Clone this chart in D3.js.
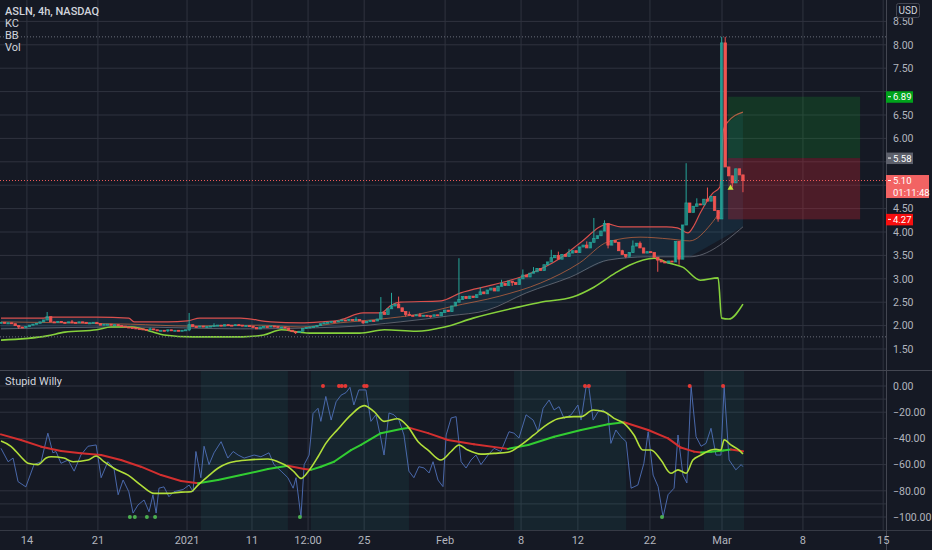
<!DOCTYPE html>
<html>
<head>
<meta charset="utf-8">
<script src="https://cdn.jsdelivr.net/npm/d3@7"></script>
<style>
html,body{margin:0;padding:0;background:#151924;overflow:hidden}
svg{display:block;font-family:Roboto,"Noto Sans",sans-serif}
</style>
</head>
<body>
<div id="chart"></div>
<script>
//###########################################################################
//#                              Data                                       #
//###########################################################################

var firstOpen = 2.06;
//4h closes, one per bar (open = previous close)
var closes = [
	2.07,2.05,2.06,2.04,2.00,1.97,1.96,1.98,2.01,2.03,
	2.05,2.08,2.12,2.19,2.08,2.07,2.09,2.07,2.06,2.08,
	2.07,2.06,2.08,2.07,2.05,2.06,2.07,2.04,2.01,2.03,
	2.03,2.01,2.02,2.00,1.99,1.97,1.96,1.95,1.94,1.93,
	1.92,1.91,1.93,1.91,1.90,1.90,1.89,1.91,1.90,1.90,
	1.89,1.90,1.91,2.02,1.98,1.97,1.99,1.97,1.98,1.99,
	2.00,2.01,1.99,2.02,2.01,2.00,2.02,2.01,1.99,2.00,
	1.99,1.96,1.93,1.97,1.98,1.97,1.99,1.98,1.96,1.97,
	1.95,1.90,1.87,1.85,1.88,1.94,1.96,1.97,1.98,2.00,
	2.04,2.06,2.07,2.09,2.08,2.10,2.12,2.11,2.13,2.12,
	2.13,2.10,2.06,2.09,2.11,2.10,2.14,2.28,2.24,2.36,
	2.42,2.46,2.38,2.30,2.24,2.22,2.21,2.23,2.20,2.22,
	2.21,2.20,2.23,2.21,2.28,2.33,2.30,2.42,2.50,2.56,
	2.62,2.58,2.63,2.60,2.66,2.72,2.68,2.76,2.80,2.74,
	2.84,2.90,2.86,2.95,2.92,2.88,3.00,3.08,3.04,3.12,
	3.15,3.22,3.18,3.30,3.36,3.45,3.50,3.42,3.52,3.48,
	3.55,3.60,3.56,3.68,3.72,3.66,3.78,3.86,3.92,4.02,
	4.18,3.72,3.82,3.78,3.60,3.52,3.48,3.56,3.70,3.76,
	3.66,3.55,3.58,3.56,3.46,3.40,3.36,3.34,3.38,3.36,
	3.80,3.42,4.15,4.62,4.42,4.55,4.60,4.58,4.70,4.66,
	4.76,4.46,4.28,8.04,5.39,5.20,5.05,5.35,5.22,5.10
];
//[bar, price] of the wicks that stick out of the bodies
var wickHigh = [[13,2.29],[20,2.12],[42,1.96],[53,2.27],[60,2.05],[100,2.18],[107,2.61],[110,2.70],[112,2.62],
	[115,2.30],[118,2.27],[129,3.44],[135,2.82],[141,2.98],[147,3.20],[150,3.25],[155,3.62],[157,3.58],
	[160,3.64],[165,3.80],[167,4.30],[170,4.25],[175,3.62],[178,3.82],[180,3.80],[193,5.47],[196,4.72],
	[199,4.95],[203,8.17],[204,8.17]];
var wickLow = [[5,1.93],[47,1.86],[53,1.88],[83,1.82],[102,2.03],[114,2.19],[121,2.17],[144,2.85],
	[171,3.65],[176,3.44],[185,3.15],[191,3.30],[202,4.22],[206,4.95],[209,4.85]];

//Channel lines [bar, price]
var upperBand = [[0,2.16],[12,2.16],[14,2.18],[27,2.18],[36,2.16],[37.5,2.08],[47,2.08],[52.5,2.10],[56,2.16],
	[67.5,2.16],[76,2.08],[84.5,2.06],[90,2.08],[95.5,2.12],[102,2.27],[107,2.27],[110,2.44],[112.5,2.50],
	[124,2.53],[129.5,2.70],[138.5,2.87],[148,3.08],[157.5,3.44],[163,3.76],[171,4.17],[174.5,4.11],
	[187.5,4.11],[190.5,4.09],[193.5,3.98],[195,4.11],[197,4.41],[200.5,4.83],[202.5,4.96],[203.5,6.18],
	[204.5,6.33],[209,6.56]];
var middleBand = [[0,2.08],[36.5,2.03],[53.5,1.99],[73,2.01],[84.5,1.97],[95.5,2.06],[107,2.14],[118,2.25],
	[126.5,2.40],[140.5,2.63],[152,2.91],[163,3.34],[171,3.79],[180,3.89],[188.5,3.85],[194,3.81],
	[200,4.17],[202.5,4.43]];
var basisBand = [[0,1.93],[36.5,1.97],[67.5,1.93],[95.5,1.97],[112.5,2.08],[126.5,2.21],[137,2.33],[148,2.70],
	[160.5,3.04],[171,3.40],[182,3.47],[194,3.47],[209,4.11]];
var lowerBand = [[0,1.69],[13,1.78],[18,1.86],[27,1.91],[31,1.97],[37,1.97],[42,1.88],[46,1.80],[54,1.76],
	[68,1.76],[74,1.80],[79,1.91],[84,1.86],[87,1.84],[101,1.84],[108,1.91],[117,1.88],[125,1.97],
	[133,2.16],[146,2.40],[152,2.50],[161,2.61],[167,2.82],[173,3.12],[177,3.29],[184,3.44],[188,3.34],
	[192,3.25],[197,2.97],[202,3.02],[203,2.16],[205,2.14],[209,2.46]];

//Stupid Willy pane [bar, value]
var willR = [[0,-47.6],[2,-57.8],[3.4,-55],[4.8,-73],[7,-77],[9.3,-60],[11.3,-57.8],[13.2,-36],[14.6,-51],
	[15.5,-50],[16.9,-59],[18.9,-56.5],[20.6,-65],[22.5,-52.7],[24.5,-46],[26.8,-45],[28.2,-70],[30.1,-57.8],
	[31.8,-62.6],[33,-83],[34.4,-71.8],[36,-80.7],[37.2,-97],[38.6,-90.8],[40.3,-87],[41.7,-96],[42.8,-83],
	[43.7,-97],[44.5,-78],[45.9,-77],[47.3,-84.5],[48.7,-80.7],[51.3,-79],[53,-75.6],[54.1,-80.7],[54.9,-50],
	[56.3,-70],[57.2,-46],[58.6,-60],[60,-51],[62,-42.5],[63.9,-55],[65.4,-50],[66.8,-52.7],[68.5,-55],
	[71.3,-52.7],[73.2,-54],[75.5,-51],[76.9,-60],[78.9,-65],[80.8,-70],[82.3,-78],[83.1,-70],[84.5,-100],
	[85.4,-60],[86.8,-52.7],[87.9,-21],[89.3,-17],[90.1,-27],[91.5,-8],[93,-26],[94.4,-12],[95.8,-7],
	[97.2,-5],[98.3,-1],[99.4,-14.5],[100.8,-3],[102.8,-3],[104.2,-27],[105.6,-22],[107,-40],[107.9,-52.7],
	[109.3,-20.6],[110.7,-22],[112.1,-26],[113.5,-37.4],[114.9,-65],[116.3,-70],[117.7,-61.6],[119.2,-62.6],
	[120.6,-66.4],[121.7,-57.8],[123.1,-71.8],[124.5,-76.8],[125.4,-37.4],[126.8,-24.4],[128.2,-23.4],
	[129.6,-57.8],[131,-62.6],[132.4,-56.5],[133.8,-52.7],[135.2,-60],[137.2,-52.7],[138.9,-47.6],[140.8,-50],
	[143.1,-34.9],[144.5,-36],[145.9,-39.7],[147.9,-22],[149.9,-26],[151.3,-34.9],[152.7,-17],[154.4,-10.7],
	[155.8,-18.3],[157.2,-15.8],[158.6,-24.7],[160.6,-22],[162.5,-14.5],[163.4,-26],[164.8,-1],[165.6,-1],
	[166.8,-26],[168.2,-19.6],[169.6,-18.3],[171,-22],[171.8,-43.8],[173.2,-33.6],[174.6,-38.7],[176.1,-42.5],
	[177.5,-78],[179.4,-75.6],[181.1,-59],[182.3,-34.9],[183.7,-68],[185.1,-76.8],[186.5,-100],[187.9,-83],
	[189.6,-78],[190.7,-37.4],[192.1,-68],[193.2,-74],[194.4,-0.5],[195.8,-38.7],[197.2,-46],[198.6,-43.8],
	[200,-32.3],[201.4,-52.7],[202.8,-52.7],[203.7,-0.5],[205.1,-56.5],[207,-64],[208.5,-60],[209,-61.6]];
var fastLine = [[0,-42],[2.8,-46],[5.6,-54],[7.6,-59],[10.4,-60],[12.7,-55],[14.1,-54],[17.7,-55],[20.3,-57.8],
	[24.5,-56.5],[26.8,-53.4],[29,-57.8],[31.8,-62.8],[35.8,-68],[39.4,-75.6],[43.1,-82],[47,-82],[50.7,-81],
	[53.5,-80.7],[55.5,-75.6],[58.3,-69],[61.1,-62.8],[63.9,-59],[65.6,-57.8],[69.6,-56.5],[75.2,-55.7],
	[78,-57.8],[80.8,-61.6],[82.5,-65.4],[84.5,-70.5],[86.5,-65.4],[89.3,-54],[91.5,-43.8],[94.9,-33],
	[98.6,-22],[102.3,-15],[105.1,-19.6],[107.9,-27],[111.8,-25],[114.6,-31],[117.5,-42.5],[120.3,-48.9],
	[123.9,-56.5],[126.8,-50],[129,-45],[131.5,-48.9],[135.2,-52],[138.9,-51.4],[142.8,-50.6],[146.5,-45],
	[150.1,-37.4],[153,-31],[156.9,-25],[161.4,-23.4],[163.4,-23.4],[166.8,-18.3],[169.9,-19.6],[172.7,-24.7],
	[175.5,-28.5],[178.3,-37.4],[180.8,-48.9],[183.1,-48.9],[185.9,-56.5],[188.7,-66.6],[190.7,-64],
	[193,-66.6],[194.9,-56.5],[197.2,-52.7],[200,-48.9],[201.4,-48.3],[202.8,-48.9],[203.7,-41],[205.6,-45],
	[207.9,-48.9],[209,-51.9]];
var slowLine = [[0,-36.9],[5.6,-41.2],[11.3,-46.3],[16.9,-49.6],[22.5,-51.4],[28.2,-52.7],[33.8,-56.5],
	[39.4,-61.6],[45.1,-68],[50.7,-72.5],[55.5,-74.3],[61.1,-71.8],[67.6,-68],[75.2,-63.4],[80.8,-60.8],
	[85.4,-63.4],[87.3,-64],[90.1,-61.6],[93.8,-57.8],[98.6,-48.9],[101.4,-45],[107,-36],[112.7,-32.8],
	[114.9,-31.8],[120.3,-36],[125.9,-41.2],[133.2,-44.5],[142.8,-48],[148.5,-45],[155.8,-38.7],[163.4,-33.6],
	[171,-29.2],[175.5,-27.7],[182.3,-33.6],[187.9,-40],[191.5,-47],[195.2,-50.1],[197.2,-50.8],[200,-50.2],
	[203.4,-49.3],[205.6,-48.5],[209,-49.8]];
var shadeRanges = [[56.3,80.8],[87.3,114.9],[144.5,176.1],[198,209.3]];
var overboughtDots = [90.7,95.2,96,97,102.3,103,164.5,165.6,194,203.4];
var oversoldDots = [36.3,37.7,41.1,43.4,84.2,186.2];

//Axes
var priceTicks = [1.5,2,2.5,3,3.5,4,4.5,5,5.5,6,6.5,7,7.5,8,8.5];
var indTicks = [0,-20,-40,-60,-80,-100];
var indBands = [-10,-90];
var timeTicks = [[7.3,"14"],[27.3,"21"],[52.4,"2021"],[70.7,"11"],[86.5,"12:00"],[102.3,"25"],[125.1,"Feb"],
	[146.5,"8"],[162.5,"12"],[182.8,"22"],[203.1,"Mar"],[225.9,"8"],[248.5,"15"]];
var legendLines = ["ASLN, 4h, NASDAQ","KC","BB","Vol"];

//Levels and long position tool
var dottedLevels = [8.17,1.76];
var lastPrice = 5.10;
var countdown = "01:11:48";
var targetPrice = 6.89, entryPrice = 5.58, stopPrice = 4.27;
var positionBars = [204.8,242];
var signalMarks = [[205.5,4.94]];

//###########################################################################
//#                              Chart                                      #
//###########################################################################

var width = 932, height = 550;
var axisX = 886;
var priceBottom = 369, sepY = 370, indBottom = 530;
var upColor = "#26a69a", downColor = "#ef5350", gridColor = "#2f333f", textColor = "#b2b5be";

var svg = d3.select("#chart").append("svg").attr("width",width).attr("height",height);
svg.append("rect").attr("width",width).attr("height",height).attr("fill","#151924");

var xscale = d3.scaleLinear().domain([0,1]).range([1,4.55]);
var yPrice = d3.scaleLinear().domain([1.5,8.5]).range([349,21.4]);
var yInd = d3.scaleLinear().domain([-100,0]).range([517,386]);

var defs = svg.append("defs");
defs.append("clipPath").attr("id","clipPrice").append("rect").attr("x",0).attr("y",0).attr("width",axisX).attr("height",priceBottom);
defs.append("clipPath").attr("id","clipInd").append("rect").attr("x",0).attr("y",sepY+1).attr("width",axisX).attr("height",indBottom-sepY-1);

//Grid
var grid = svg.append("g");
grid.selectAll("line.hp").data(priceTicks).enter().append("line")
	.attr("x1",0).attr("x2",axisX).attr("y1",function(d){ return yPrice(d); }).attr("y2",function(d){ return yPrice(d); })
	.attr("stroke",gridColor);
grid.selectAll("line.hi").data(indTicks.concat(indBands)).enter().append("line")
	.attr("x1",0).attr("x2",axisX).attr("y1",function(d){ return yInd(d); }).attr("y2",function(d){ return yInd(d); })
	.attr("stroke",gridColor);
grid.selectAll("line.v").data(timeTicks).enter().append("line")
	.attr("x1",function(d){ return xscale(d[0]); }).attr("x2",function(d){ return xscale(d[0]); })
	.attr("y1",0).attr("y2",indBottom).attr("stroke",gridColor);

//============================ Price pane ==================================
var price = svg.append("g").attr("clip-path","url(#clipPrice)");

var bandLine = d3.line().x(function(d){ return xscale(d[0]); }).y(function(d){ return yPrice(d[1]); }).curve(d3.curveMonotoneX);

//Fill between the upper line and the basis
var fillPts = upperBand.concat(basisBand.slice().reverse());
price.append("path")
	.attr("d",d3.line().x(function(d){ return xscale(d[0]); }).y(function(d){ return yPrice(d[1]); })(fillPts) + "Z")
	.attr("fill","rgba(40,150,190,0.13)");

price.append("path").attr("d",bandLine(basisBand)).attr("fill","none").attr("stroke","#767a86").attr("stroke-opacity",0.7).attr("stroke-width",1);
price.append("path").attr("d",bandLine(middleBand)).attr("fill","none").attr("stroke","#b8613f").attr("stroke-opacity",0.8).attr("stroke-width",1);
price.append("path").attr("d",bandLine(upperBand)).attr("fill","none").attr("stroke","#d94f4c").attr("stroke-width",1.2);
price.append("path").attr("d",bandLine(lowerBand)).attr("fill","none").attr("stroke","#86d13c").attr("stroke-width",1.6);

//Dotted levels
price.selectAll("line.lvl").data(dottedLevels).enter().append("line")
	.attr("x1",0).attr("x2",axisX).attr("y1",function(d){ return yPrice(d); }).attr("y2",function(d){ return yPrice(d); })
	.attr("stroke","#6a6e7a").attr("stroke-dasharray","1,2");

//Position tool boxes
var px0 = xscale(positionBars[0]), px1 = xscale(positionBars[1]);
price.append("rect").attr("x",px0).attr("width",px1-px0)
	.attr("y",yPrice(targetPrice)).attr("height",yPrice(entryPrice)-yPrice(targetPrice))
	.attr("fill","rgba(20,160,40,0.22)");
price.append("rect").attr("x",px0).attr("width",px1-px0)
	.attr("y",yPrice(entryPrice)).attr("height",yPrice(stopPrice)-yPrice(entryPrice))
	.attr("fill","rgba(220,35,50,0.28)");

//Candles
var candles = closes.map(function(c,i){
	var o = i == 0 ? firstOpen : closes[i-1];
	return {i:i, o:o, c:c, h:Math.max(o,c), l:Math.min(o,c)};
});
wickHigh.forEach(function(w){ candles[w[0]].h = Math.max(candles[w[0]].h,w[1]); });
wickLow.forEach(function(w){ candles[w[0]].l = Math.min(candles[w[0]].l,w[1]); });

var cg = price.selectAll("g.candle").data(candles).enter().append("g").attr("class","candle");
cg.append("line")
	.attr("x1",function(d){ return xscale(d.i); }).attr("x2",function(d){ return xscale(d.i); })
	.attr("y1",function(d){ return yPrice(d.h); }).attr("y2",function(d){ return yPrice(d.l); })
	.attr("stroke",function(d){ return d.c >= d.o ? upColor : downColor; }).attr("stroke-width",1);
cg.append("rect")
	.attr("x",function(d){ return xscale(d.i)-1.2; }).attr("width",2.4)
	.attr("y",function(d){ return yPrice(Math.max(d.o,d.c)); })
	.attr("height",function(d){ return Math.max(1,Math.abs(yPrice(d.o)-yPrice(d.c))); })
	.attr("fill",function(d){ return d.c >= d.o ? upColor : downColor; })
	.attr("fill-opacity",function(d){ return d.c >= d.o ? 0.35 : 1; })
	.attr("stroke",function(d){ return d.c >= d.o ? upColor : downColor; }).attr("stroke-width",0.8);

//Signal triangle
price.selectAll("path.sig").data(signalMarks).enter().append("path")
	.attr("d",d3.symbol().type(d3.symbolTriangle).size(16))
	.attr("transform",function(d){ return "translate("+xscale(d[0])+","+yPrice(d[1])+")"; })
	.attr("fill","#c6e23a");

//Last price dotted line
price.append("line").attr("x1",0).attr("x2",axisX).attr("y1",yPrice(lastPrice)).attr("y2",yPrice(lastPrice))
	.attr("stroke","#f05a5a").attr("stroke-dasharray","1,2");

//========================== Stupid Willy pane =============================
var ind = svg.append("g").attr("clip-path","url(#clipInd)");

ind.selectAll("rect.shade").data(shadeRanges).enter().append("rect")
	.attr("x",function(d){ return xscale(d[0]); }).attr("width",function(d){ return xscale(d[1])-xscale(d[0]); })
	.attr("y",sepY+1).attr("height",indBottom-sepY-1)
	.attr("fill","rgba(38,166,154,0.09)");

var indLine = d3.line().x(function(d){ return xscale(d[0]); }).y(function(d){ return yInd(d[1]); });
ind.append("path").attr("d",indLine(willR)).attr("fill","none").attr("stroke","#4f70b8").attr("stroke-width",1).attr("stroke-opacity",0.9);

//slow line: green while rising, red while falling
for(var k = 0; k < slowLine.length - 1; k++){
	var a = slowLine[k], b = slowLine[k+1];
	ind.append("path").attr("d",indLine([a,b])).attr("fill","none")
		.attr("stroke", b[1] > a[1] ? "#32cd32" : "#d32f2f").attr("stroke-width",2).attr("stroke-linecap","round");
}
ind.append("path").attr("d",indLine.curve(d3.curveMonotoneX)(fastLine)).attr("fill","none").attr("stroke","#b2df3a").attr("stroke-width",1.6);

ind.selectAll("circle.ob").data(overboughtDots).enter().append("circle")
	.attr("cx",function(d){ return xscale(d); }).attr("cy",yInd(0)).attr("r",2).attr("fill","#e53935");
ind.selectAll("circle.os").data(oversoldDots).enter().append("circle")
	.attr("cx",function(d){ return xscale(d); }).attr("cy",yInd(-100)).attr("r",2).attr("fill","#4caf50");

//============================ Frame & axes ================================
svg.append("line").attr("x1",0).attr("x2",width).attr("y1",sepY+0.5).attr("y2",sepY+0.5).attr("stroke","#434651");
svg.append("line").attr("x1",0).attr("x2",width).attr("y1",indBottom+0.5).attr("y2",indBottom+0.5).attr("stroke","#363a45");
svg.append("line").attr("x1",axisX+0.5).attr("x2",axisX+0.5).attr("y1",0).attr("y2",height).attr("stroke","#434651");

//Axis labels hidden where a price badge sits on top of them
var badgePrices = [targetPrice,entryPrice,lastPrice,stopPrice];
var shownTicks = priceTicks.filter(function(t){
	return badgePrices.every(function(b){ return Math.abs(yPrice(t)-yPrice(b)) > 9; });
});

var fmt = d3.format(".2f");
var yaxisP = d3.axisRight(yPrice).tickValues(shownTicks).tickSize(0).tickPadding(7).tickFormat(fmt);
var yaxisI = d3.axisRight(yInd).tickValues(indTicks).tickSize(0).tickPadding(7).tickFormat(fmt);
svg.append("g").attr("class","yaxis").attr("transform","translate("+axisX+",0)").call(yaxisP);
svg.append("g").attr("class","yaxis").attr("transform","translate("+axisX+",0)").call(yaxisI);
svg.selectAll(".yaxis .domain").remove();
svg.selectAll(".yaxis text").attr("fill",textColor).attr("font-size",10.5).attr("font-family","Roboto,sans-serif");

svg.append("g").selectAll("text").data(timeTicks).enter().append("text")
	.attr("x",function(d){ return xscale(d[0]); }).attr("y",544).attr("text-anchor","middle")
	.attr("fill",textColor).attr("font-size",11).text(function(d){ return d[1]; });

//Price badges on the axis
function drawBadge(value,lines,color,w){
	var y = yPrice(value);
	var h = lines.length * 11.5;
	var g = svg.append("g");
	g.append("rect").attr("x",axisX).attr("y",y-5.5).attr("width",w).attr("height",h).attr("fill",color);
	g.append("line").attr("x1",axisX+2).attr("x2",axisX+5).attr("y1",y).attr("y2",y).attr("stroke","#ffffff");
	lines.forEach(function(t,n){
		g.append("text").attr("x",axisX+7).attr("y",y+3.5+n*11.5).attr("fill","#ffffff").attr("font-size",9.5).text(t);
	});
}
drawBadge(targetPrice,[fmt(targetPrice)],"#00a31b",27);
drawBadge(entryPrice,[fmt(entryPrice)],"#5d606b",27);
drawBadge(lastPrice,[fmt(lastPrice),countdown],"#f26363",43);
drawBadge(stopPrice,[fmt(stopPrice)],"#f70f0f",27);

//USD box
svg.append("rect").attr("x",896.5).attr("y",3.5).attr("width",23).attr("height",14).attr("rx",2)
	.attr("fill","#151924").attr("stroke","#434651");
svg.append("text").attr("x",908).attr("y",14).attr("text-anchor","middle").attr("fill","#d1d4dc").attr("font-size",10).text("USD");

//Legends
svg.append("g").selectAll("text").data(legendLines).enter().append("text")
	.attr("x",5).attr("y",function(d,i){ return 15 + i*12; })
	.attr("fill","#d1d4dc").attr("font-size",11).attr("font-weight",function(d,i){ return i == 0 ? 500 : 400; })
	.text(function(d){ return d; });
svg.append("text").attr("x",5).attr("y",385).attr("fill","#d1d4dc").attr("font-size",11).text("Stupid Willy");
</script>
</body>
</html>
